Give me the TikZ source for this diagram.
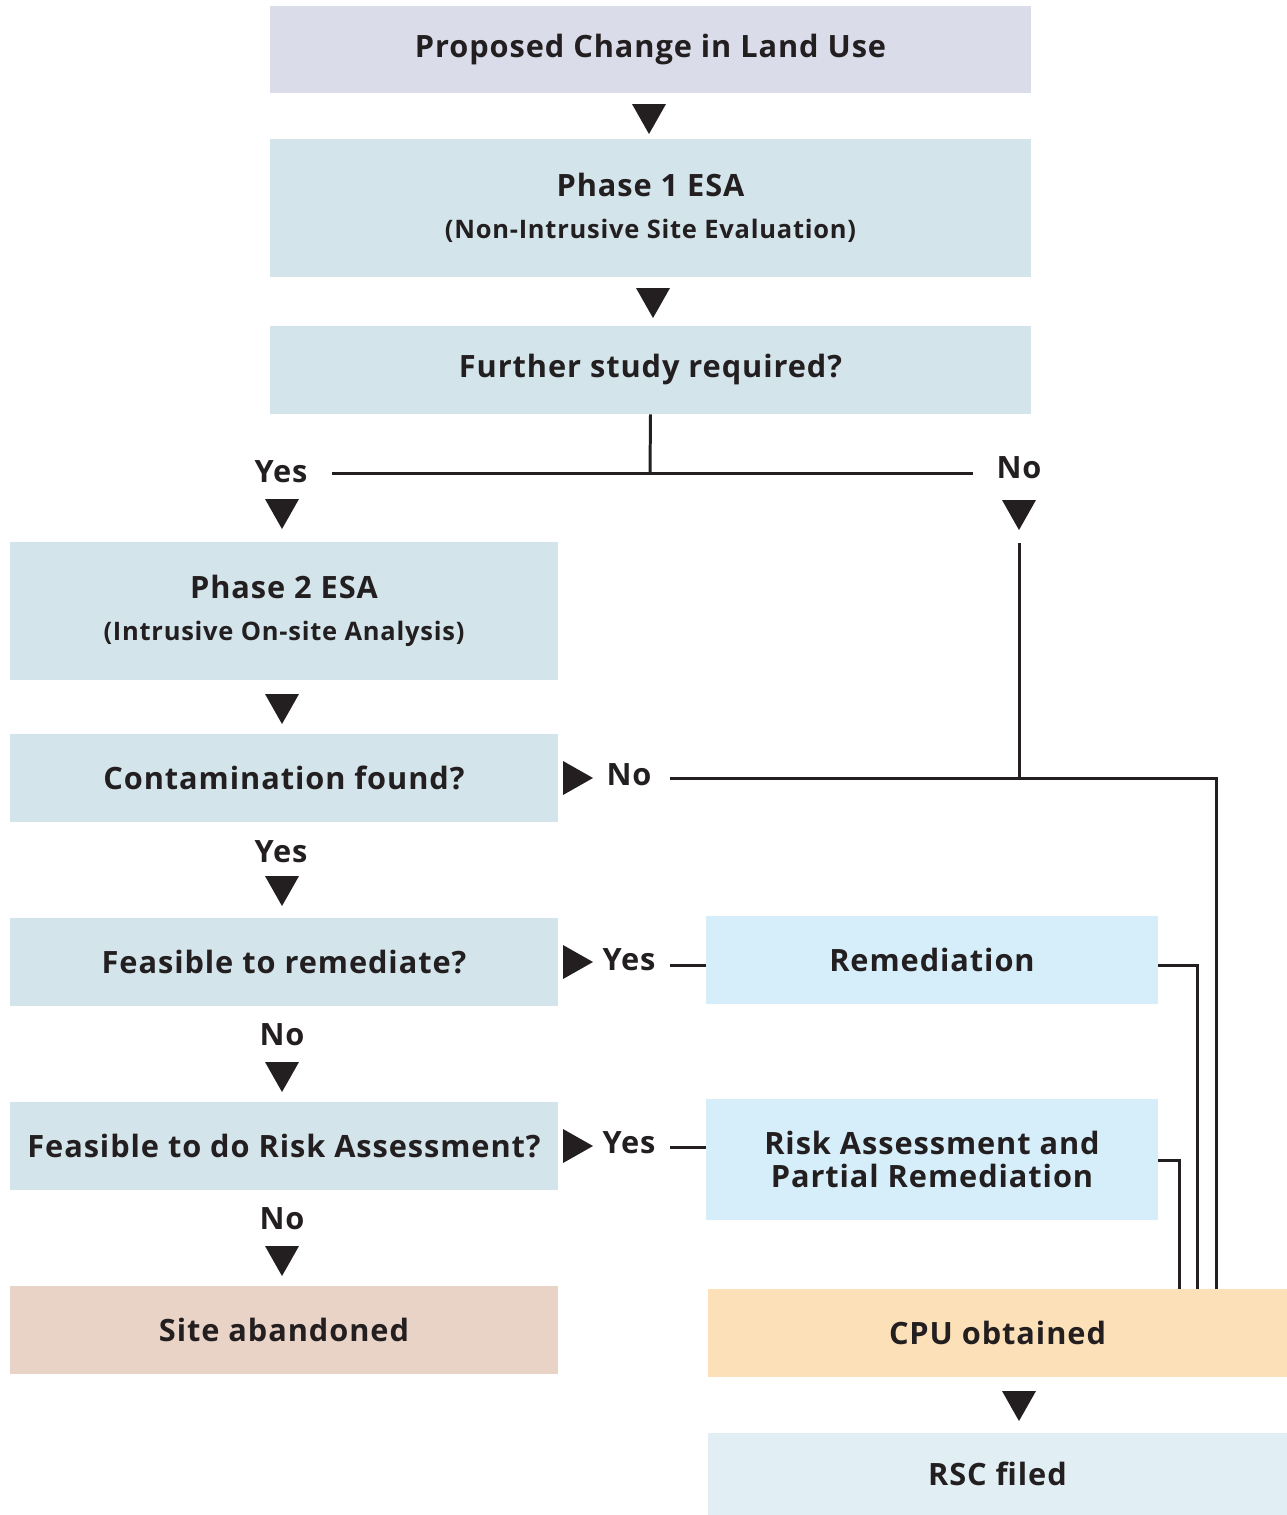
\documentclass[tikz,border=0pt]{standalone}
\usepackage{fontspec}
\setmainfont{Open Sans}[LetterSpace=3]
\usetikzlibrary{positioning,calc}
\definecolor{txt}{HTML}{231F20}
\definecolor{lavender}{HTML}{DADCE9}
\definecolor{paleblue}{HTML}{D3E4EB}
\definecolor{skyblue}{HTML}{D6EEF9}
\definecolor{rose}{HTML}{E9D3C7}
\definecolor{peach}{HTML}{FCE0B8}
\definecolor{mist}{HTML}{E1EEF3}
\tikzset{
    box/.style={
        fill=#1,
        inner sep=0pt,
        align=center,
        text=txt,
        font=\bfseries\fontsize{17.5}{22}\selectfont
    },
    lbl/.style={
        inner sep=0pt,
        text=txt,
        font=\bfseries\fontsize{17.5}{22}\selectfont
    },
    line/.style={
        draw=txt,
        line width=1.7pt
    }
}
\newcommand{\subtext}{\fontsize{14.5}{17}\selectfont}
% filled arrowheads, base 34 and depth 30 (picture units)
\newcommand{\downtri}[2]{\fill[txt] (#1-17,#2) -- (#1+17,#2) -- (#1,#2+30) -- cycle;}
\newcommand{\righttri}[2]{\fill[txt] (#1,#2-17) -- (#1,#2+17) -- (#1+30,#2) -- cycle;}

\begin{document}
\begin{tikzpicture}[x=0.02cm, y=-0.02cm]
    \useasboundingbox (0,0) rectangle (1287,1515);

    % Top column
    \node[box=lavender, minimum width=15.22cm, minimum height=1.74cm] (change) at (650.5,49.5) {Proposed Change in Land Use};
    \node[box=paleblue, minimum width=15.22cm, minimum height=2.76cm] (phase1) at (650.5,208)
        {Phase 1 ESA\\[2pt]{\subtext (Non-Intrusive Site Evaluation)}};
    \node[box=paleblue, minimum width=15.22cm, minimum height=1.76cm] (further) at (650.5,370) {Further study required?};

    % Left column
    \node[box=paleblue, minimum width=10.96cm, minimum height=2.76cm] (phase2) at (284,611)
        {Phase 2 ESA\\[2pt]{\subtext (Intrusive On-site Analysis)}};
    \node[box=paleblue, minimum width=10.96cm, minimum height=1.76cm] (contam) at (284,778) {Contamination found?};
    \node[box=paleblue, minimum width=10.96cm, minimum height=1.76cm] (remfeas) at (284,962) {Feasible to remediate?};
    \node[box=paleblue, minimum width=10.96cm, minimum height=1.76cm] (riskfeas) at (284,1146) {Feasible to do Risk Assessment?};
    \node[box=rose, minimum width=10.96cm, minimum height=1.76cm] (abandon) at (284,1330) {Site abandoned};

    % Right column
    \node[box=skyblue, minimum width=9.04cm, minimum height=1.76cm] (remed) at (932,960) {Remediation};
    \node[box=skyblue, minimum width=9.04cm, minimum height=2.42cm] (riskrem) at (932,1159.5)
        {Risk Assessment and\\[-3pt]Partial Remediation};
    \node[box=peach, minimum width=11.58cm, minimum height=1.76cm] (cpu) at (997.5,1333) {CPU obtained};
    \node[box=mist, minimum width=11.58cm, minimum height=1.64cm] (rsc) at (997.5,1474) {RSC filed};

    % Labels
    \node[lbl] (yes1) at (281,472) {Yes};
    \node[lbl] (no1) at (1019,468) {No};
    \node[lbl] (no2) at (629,775) {No};
    \node[lbl] (yes2) at (281,852) {Yes};
    \node[lbl] (yes3) at (629,960) {Yes};
    \node[lbl] (no3) at (282,1035) {No};
    \node[lbl] (yes4) at (629,1143) {Yes};
    \node[lbl] (no4) at (282,1219) {No};

    % Arrowheads
    \downtri{649}{104}
    \downtri{653}{288}
    \downtri{282}{499}
    \downtri{1019}{500}
    \downtri{282}{694}
    \downtri{282}{876}
    \downtri{282}{1062}
    \downtri{282}{1246}
    \downtri{1019}{1391}
    \righttri{563}{778}
    \righttri{563}{962}
    \righttri{563}{1146}

    % Connectors
    \coordinate (split) at (650,473);
    \coordinate (yesend) at (332,473);
    \coordinate (noend) at (973,473);
    \coordinate (nodrop) at (1019,543);
    \coordinate (nojoin) at (1019,778);
    \coordinate (nostart) at (670,778);
    \draw[line] (further.south) -- (split);
    \draw[line] (yesend) -- (noend);
    \draw[line] (nodrop) -- (nojoin);
    \draw[line] (nostart) -- (1216,778) -- (1216,1289);
    \draw[line] ($(remed.west)+(-36,5)$) -- ($(remed.west)+(0,5)$);
    \draw[line] ($(remed.east)+(0,5)$) -| ($(cpu.north)+(1197-997.5,0)$);
    \draw[line] ($(riskrem.west)+(-36,-12.5)$) -- ($(riskrem.west)+(0,-12.5)$);
    \draw[line] ($(riskrem.east)+(0,0.5)$) -| ($(cpu.north)+(1179-997.5,0)$);
\end{tikzpicture}
\end{document}
